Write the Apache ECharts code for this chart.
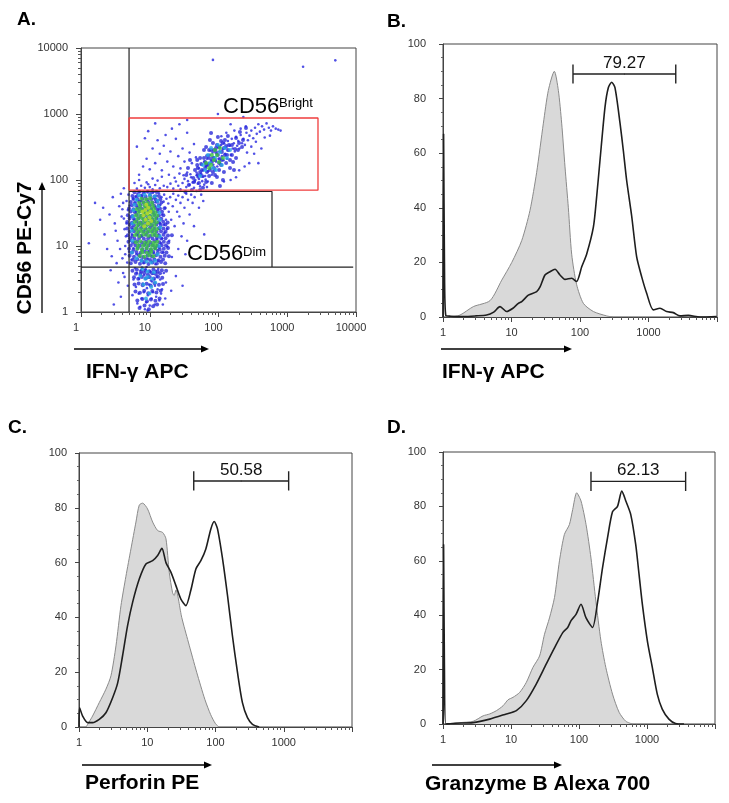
<!DOCTYPE html>
<html><head><meta charset="utf-8">
<script src="https://cdn.jsdelivr.net/npm/echarts@6/dist/echarts.min.js"></script>
<style>html,body{margin:0;padding:0;background:#fff}#c{width:729px;height:803px}</style>
</head><body><div id="c"></div>
<script>
// ---------------- DATA ----------------
const decadeLabelsA = ['1','10','100','1000','10000'];
const decadeLabelsHist = ['1','10','100','1000',''];
const minorMultipliers = [2,3,4,5,6,7,8,9];

// Panel A gates (data units)
const gateVertA = [[5,1],[5,10000]];
const gateHorzA = [[1,4.8],[9100,4.8]];
const brightGate = [[5,70],[2800,70],[2800,870],[5,870],[5,70]];
const dimGate = [[5,67],[600,67],[600,4.8]];

// Panel A events
const scatterBlue = [
[5.2,12],[5.6,18],[5.9,25],[6.3,33],[6.1,44],[5.7,52],[6.6,62],[7.1,66],[7.8,58],[8.4,64],[9.2,67],[10.1,62],[11.3,66],[12.4,58],[13.6,63],[14.8,55],[15.9,47],[16.8,38],[15.2,30],[14.1,22],[13.5,15],[14.6,11],[15.8,8],[13.2,6],[12.1,5.3],[10.7,5.8],[9.4,6.4],[8.1,5.5],[7.2,6.8],[6.4,7.5],[5.8,9.3],[5.4,6.2],[6.9,10.5],[7.6,14],[8.8,11],[11.9,9],[12.8,12.5],[13.9,18],[12.6,27],[13.1,36],[12.2,46],[11.6,53],[6.8,20],[7.3,38],[6.2,56],[7.5,48],[14.3,42],[16.2,60],[17.5,52],[18.6,44],[17.2,25],[16.4,16],[18.9,33],[19.8,55],[4.8,35],[4.6,22],[5.1,41],[4.9,60],[5.3,28],[5.5,15],[6.0,11.5],[6.7,14.5],[9.6,8.4],[10.3,7.2],[11.4,7.8],[12.9,8.6],[13.8,9.5],[15.1,13],[16.1,21],[17.8,18],[20.5,25],[21.6,40],[19.2,12],[18.1,9.8],[4.3,18],[4.1,45],[3.9,28],[4.4,10],[5.0,8.2],[4.7,5.6],
[6.1,4.6],[6.5,3.9],[7.0,3.2],[7.4,4.3],[7.9,2.7],[8.3,3.6],[8.7,4.4],[9.1,2.3],[9.6,3.3],[10.2,4.1],[10.8,2.9],[11.3,3.8],[11.9,2.5],[12.6,3.4],[13.3,4.5],[14.2,3.1],[15.1,2.2],[16.0,3.9],[6.3,2.4],[6.9,1.9],[7.6,1.6],[8.2,2.0],[8.9,1.4],[9.4,1.8],[10.0,1.25],[10.6,1.6],[11.1,2.0],[11.8,1.3],[12.4,1.7],[13.0,2.2],[13.8,1.5],[14.6,1.9],[15.5,1.3],[7.3,1.2],[8.5,1.1],[9.8,2.6],[10.4,3.0],[11.6,3.1],[12.2,4.2],[7.7,4.7],[9.0,4.8],[6.6,1.35],[9.3,1.05],[16.8,1.6],[17.2,2.8],[5.8,3.1],[5.6,1.8],[4.8,2.5],[4.3,3.4],[3.8,1.7],
[3.4,12],[3.1,22],[2.8,7],[3.6,40],[2.6,30],[2.2,15],[3.3,5.5],[2.9,55],[3.8,62],[2.4,9],[1.9,25],[1.6,45],[1.3,11],[4.2,75],[3.5,2.8],[2.7,4.3],[3.0,1.3],[4.0,6.5],[3.2,17],[2.1,38],[4.5,14],[4.2,26],[4.6,48],[4.0,36],[4.4,7.5],[3.7,9],[4.1,3.9],
[22,62],[24,50],[26,58],[28,45],[25,33],[23,20],[27,28],[30,55],[32,38],[34,62],[36,50],[29,14],[31,22],[38,30],[40,60],[42,45],[45,55],[48,68],[35,12],[26,9],[21,6.8],[33,7.5],[44,20],[52,38],[56,60],[60,48],[24,3.5],[30,2.5],[62,15],[20.5,2.1],
[14,75],[16,82],[18,78],[20,88],[22,74],[24,95],[26,82],[28,72],[30,90],[32,104],[34,78],[36,96],[38,85],[40,110],[42,92],[44,76],[46,100],[48,118],[50,88],[52,104],[54,80],[56,125],[58,96],[60,112],[62,85],[65,102],[68,78],[70,95],[12,84],[10,78],[9,92],[11,105],[13,98],[15,112],[19,120],[23,108],[27,125],[31,118],[35,130],[39,122],[6.5,74],[7.5,82],[8.5,76],[9.5,86],[11,72],[6,90],[7,100],
[45,95],[48,130],[50,110],[52,150],[55,120],[57,170],[60,140],[62,190],[64,115],[66,160],[68,210],[70,135],[72,180],[74,240],[76,150],[78,200],[80,120],[82,260],[84,170],[86,220],[88,140],[90,290],[92,190],[94,250],[96,160],[98,320],[100,210],[103,270],[106,180],[109,340],[112,230],[115,290],[118,200],[121,360],[125,250],[129,310],[133,210],[137,390],[141,280],[146,330],[151,240],[156,420],[161,300],[167,360],[173,270],[180,450],[187,330],[194,390],[202,300],[210,480],[220,360],[230,420],[242,340],[255,520],[268,400],[282,470],
[300,560],[320,430],[340,620],[360,500],[380,700],[400,540],[430,650],[460,580],[500,720],[540,620],[580,560],[620,650],[680,600],[740,580],[800,560],[260,260],[300,320],[350,380],[280,180],[240,160],[330,250],[420,300],[200,140],[180,110],[150,100],[120,95],[380,180],[470,440],[560,470],[250,650],[210,600],[170,560],[150,700],[130,520],[110,460],
[7,120],[8,160],[9,210],[10,145],[11,300],[12,180],[13,400],[14,250],[15,140],[16,330],[18,190],[20,270],[22,160],[24,420],[26,230],[28,150],[30,300],[32,190],[35,520],[38,260],[41,180],[44,350],[47,220],[9.5,550],[12,720],[17,480],[21,600],[27,700],[6.5,320],[8.5,430],
[35,810],[98,1000],[230,900],[83,6600],[1700,5200],[5000,6500]
];
const denseBlue = [
[7.1,1.15],[8.4,1.25],[9.7,1.1],[11.2,1.22],[12.8,1.3],
[6.6,1.5],[7.8,1.58],[9.1,1.45],[10.4,1.55],[12.1,1.48],[13.9,1.6],
[6.2,2.05],[7.2,1.95],[8.3,2.1],[9.5,1.92],[10.9,2.08],[12.5,1.98],[14.4,2.1],
[6.0,2.6],[6.9,2.7],[7.9,2.55],[9.0,2.68],[10.3,2.52],[11.8,2.72],[13.6,2.58],[15.6,2.66],
[5.9,3.35],[6.8,3.2],[7.7,3.4],[8.8,3.25],[10.0,3.38],[11.5,3.22],[13.2,3.42],[15.2,3.3],
[6.3,3.8],[7.3,3.75],[8.3,3.9],[9.4,3.7],[10.8,3.85],[12.3,3.78],[14.1,3.88],
[5.6,4.2],[6.5,4.35],[7.5,4.1],[8.6,4.3],[9.9,4.15],[11.3,4.4],[13.0,4.1],[15.0,4.3],[17.3,4.2],
[5.3,5.5],[6.2,5.7],[7.2,5.4],[8.3,5.65],[9.6,5.35],[11.0,5.6],[12.7,5.45],[14.6,5.7],[16.8,5.5],
[5.7,6.2],[6.6,6.3],[7.6,6.1],[8.8,6.35],[10.1,6.15],[11.7,6.3],[13.5,6.1],[15.6,6.25],
[5.1,7.1],[5.9,6.9],[6.9,7.3],[8.0,6.8],[9.3,7.2],[10.8,6.95],[12.4,7.25],[14.3,6.9],[16.5,7.1],[19,7.0],
[5.5,8.0],[6.4,8.1],[7.4,7.9],[8.5,8.15],[9.8,7.95],[11.3,8.1],[13.1,7.9],[15.1,8.05],[17.5,8.0],
[5.0,9.1],[5.8,8.8],[6.7,9.3],[7.8,8.9],[9.0,9.2],[10.4,8.85],[12.0,9.3],[13.9,8.9],[16.0,9.1],[18.5,9.3],
[5.3,10.2],[6.2,10.3],[7.2,10.1],[8.3,10.35],[9.6,10.15],[11.1,10.3],[12.9,10.1],[14.9,10.25],[17.2,10.2],
[4.9,11.6],[5.7,11.2],[6.6,11.8],[7.7,11.3],[8.9,11.7],[10.3,11.2],[11.9,11.8],[13.8,11.4],[16.0,11.6],[18.6,11.3],
[5.2,13.1],[6.0,12.9],[7.0,13.2],[8.2,12.85],[9.5,13.15],[11.0,12.9],[12.7,13.2],[14.7,12.95],[17.0,13.1],
[4.8,14.6],[5.6,14.2],[6.5,14.9],[7.6,14.3],[8.8,14.8],[10.2,14.2],[11.8,14.7],[13.7,14.3],[15.9,14.8],[18.4,14.4],[21,14.6],
[5.1,16.4],[5.9,16.7],[6.9,16.3],[8.1,16.6],[9.4,16.35],[10.9,16.7],[12.6,16.4],[14.6,16.65],[17.0,16.5],
[4.7,18.4],[5.5,18.9],[6.4,18.2],[7.5,18.8],[8.7,18.3],[10.1,18.9],[11.7,18.2],[13.6,18.7],[15.8,18.4],[18.3,18.8],
[5.1,21],[5.9,20.6],[6.9,21.3],[8.0,20.8],[9.3,21.2],[10.8,20.7],[12.5,21.1],[14.5,20.8],[16.9,21.2],
[4.7,23.2],[5.5,22.6],[6.4,23.5],[7.4,22.8],[8.6,23.4],[10.0,22.7],[11.6,23.3],[13.5,22.9],[15.7,23.4],[18.2,22.8],
[5.1,26.2],[5.9,25.6],[6.9,26.4],[8.1,25.8],[9.4,26.3],[10.9,25.7],[12.6,26.2],[14.7,25.9],
[4.8,29.3],[5.6,28.5],[6.5,29.6],[7.5,28.8],[8.7,29.4],[10.1,28.6],[11.7,29.5],[13.6,28.9],[15.8,29.2],
[5.3,33.2],[6.1,32.5],[7.1,33.5],[8.3,32.8],[9.6,33.3],[11.2,32.6],[13.0,33.4],[15.1,32.9],
[5.0,37],[5.8,36.2],[6.7,37.6],[7.8,36.5],[9.0,37.4],[10.5,36.3],[12.2,37.5],[14.1,36.8],[16.4,37.2],
[5.5,41.5],[6.4,40.6],[7.4,41.8],[8.6,40.8],[10.0,41.4],[11.6,40.7],[13.5,41.6],
[5.3,46.5],[6.1,45.3],[7.1,46.8],[8.2,45.6],[9.5,46.4],[11.0,45.5],[12.8,46.7],[14.8,45.8],
[5.8,51.5],[6.7,50.4],[7.8,51.8],[9.1,50.6],[10.5,51.4],[12.2,50.8],[14.2,51.2],
[5.6,57],[6.5,56],[7.5,57.8],[8.7,56.4],[10.1,57.5],[11.7,56.2],[13.6,57.3],
[6.0,65],[7.0,66.5],[8.1,64.8],[9.4,66.2],[10.9,65.3],[12.6,66],
[89,201],[70,169],[112,265],[54,132],[142,339],[43,107],[180,433],[78,285],[102,142],[61.5,215],[129,181],[49,169],[157,239],[37,84],[205,534],[83,364],[95,111],[66,316],[120,132],[52,90],[174,295],[73,115],[109,390],[45.5,142],[147,152],[59.5,76],[227,404],[86,152],[68,231],[105,208],[34,119],[192,285],[57.5,115],[129,327],[80,90],[98,448],[41,70.5],[163,187],[64,152],[116,100],[75,404],[49,201],[137,464],[92,265],[54,70.5],[251,614],[36,152],[168,142],[102,181],[66,93],[133,239],[83,215],[73,285],[56,175],[120,305],[44,93],[199,364],[89,119],[61.5,285],[147,201],[105,81],[50,119],[78,515],[180,215],[33,66],[220,316],[38.5,201],[124,404],[95,339],[68,132],
[80,187],[98,239],[64,187],[109,169],[73,215],[92,305],[57.5,142],[124,239],[83,132],[102,316],[50,152],[137,285],[112,201],[86,285],[66,169],[54,215],[157,339],[116,364],[75,142]
];
const scatterCyan = [
[5.5,8],[5.6,12],[5.5,17],[5.6,22],[5.7,28],[5.8,35],[6,42],[6.4,50],[7,58],[8.4,60],[10,59],[11.8,56],[13,48],[13.4,40],[13.8,32],[14,25],[14.2,19],[14,14],[13.6,10],[13,7.5],[12,6],[10.5,5.6],[9,5.8],[7.6,6],[6.4,6.5],[7.8,4.5],[9.3,4.1],[11.5,4],[8.6,3.2],[10.5,2.4],[9.9,1.9],[8.1,2.6],[9.4,3.4],[10.9,3.2],[8.8,1.6],[7.3,3.5],[12,2.8],
[89,215],[75,181],[105,265],[64,142],[124,305],[83,152],[98,339],[70,239],[112,169],[59.5,169],[133,215],[92,142],[78,305],[54,115],[147,285]
];
const scatterGreen = [
[7.2,7.1],[8.4,6.9],[9.8,7.2],[11.3,7],
[6.6,9.1],[7.7,8.8],[9,9.3],[10.4,8.9],[12,9.2],
[6.3,11.4],[7.3,11.8],[8.5,11.3],[9.8,11.7],[11.3,11.2],[12.8,11.6],
[6.1,14.6],[7.1,14.2],[8.2,14.8],[9.5,14.3],[11,14.7],[12.6,14.4],
[6.2,18.3],[7.2,17.8],[8.3,18.4],[9.6,17.9],[11.1,18.2],[12.7,18],
[6.1,23.2],[7.1,22.6],[8.2,23.4],[9.5,22.8],[11,23.3],[12.6,22.9],
[6.3,29.2],[7.3,28.6],[8.4,29.5],[9.7,28.8],[11.2,29.3],[12.8,28.7],
[6.5,36.2],[7.5,35.5],[8.7,36.6],[10,35.8],[11.5,36.4],
[7,44.8],[8.1,45.6],[9.3,44.5],[10.7,45.4],
[7.6,52],[8.8,51],[10.1,52.5],
[6.8,10.2],[8,10.1],[9.3,10.4],[10.8,10.1],[12.3,10.3],[6.6,16.2],[7.7,16.4],[8.9,16.1],[10.3,16.5],[11.9,16.2],[6.6,20.5],[7.7,20.8],[8.9,20.4],[10.3,20.9],[11.8,20.5],[6.7,25.8],[7.8,26.1],[9,25.6],[10.4,26.2],[12,25.8],[6.9,32.4],[8,32.8],[9.2,32.2],[10.6,32.9],[12.1,32.3],[7.2,40.2],[8.4,40.6],[9.7,40],[11.1,40.5],[7.8,8],[9.1,7.9],[10.5,8.1],
[86,201],[95,239],[78,169],[105,305],[73,152],[116,215],[89,285],[66,181],[102,187],[80,239]
];
const scatterYellow = [[8.3,20],[9.4,22],[8.7,25],[9.9,27],[8.1,29],[9.2,31],[10.2,33],[8.6,35],[9.5,38],[8.9,42],[7.8,33],[10.5,24]];

// Panel B: IFN-γ APC histograms  [intensity, % of max]
const bGrey = [[1.27,0],[1.77,0.7],[2.77,3.8],[4.86,6],[7.2,13.5],[10.1,20],[14.1,28],[18.6,39],[23.3,53],[29.2,71],[34.5,83],[42.2,90],[48.3,83],[54,71],[60.4,55],[67.6,40],[75.6,23],[89,12],[112,5],[157,2],[245,0.4],[300,0]];
const bBlack = [[1,0],[1.02,67],[1.05,20],[1.1,0.5],[1.3,0.3],[2,0.2],[3,0.4],[4.34,0.7],[5.5,1.8],[6.8,3.8],[8.5,2],[10.5,3.2],[12.6,5],[14.1,5.6],[17.6,8],[23.3,9.3],[26.1,11],[30.8,15.4],[36.5,16.6],[43.2,17.5],[51,15.4],[60.4,13.8],[75.6,14.2],[89,13],[106,18.4],[125,23],[157,33],[175,44],[196,57.5],[232,77],[259,84],[290,86],[324,84],[384,71],[429,61],[480,50],[568,37],[672,22],[794,14.8],[940,8.7],[1175,2.6],[1472,3.2],[1841,2],[2305,1.6],[2884,0.4],[3813,0.6],[5650,0],[9890,0.2]];
// Panel C: Perforin PE
const cGrey = [[1.27,0],[1.58,4],[1.98,8.9],[2.48,13.8],[2.94,18.7],[3.48,29.6],[4.12,44.3],[4.87,55],[5.77,65],[6.83,74.8],[7.64,81],[8.55,81.7],[10.1,79.6],[12,74.8],[14.2,71.7],[16.8,71],[18.8,68.7],[21,56.5],[23.5,49],[24.8,48],[26.3,50],[32,40],[40,31],[53,20],[70,10],[85,4.5],[100,1.2],[112,0]];
const cBlack = [[1,0],[1.02,7],[1.13,4],[1.34,1.6],[1.58,1.6],[1.98,2.8],[2.48,5.2],[3.11,10.7],[3.68,16],[4.35,26],[5.15,37],[6.1,45.5],[7.64,54],[9.56,59.5],[12,60.7],[14.2,62.6],[16.4,65.2],[18.8,60],[22.2,56.5],[26.3,51.6],[31.1,46.7],[36.8,44.3],[43.6,50],[51.6,57.7],[61,60.7],[72.2,65],[85.5,72.3],[95.6,75],[107,72.3],[127,61.3],[150,48],[177,33.3],[210,19.9],[248,8.9],[294,3.4],[348,1],[436,0]];
// Panel D: Granzyme B Alexa 700
const dGrey = [[1.27,0],[1.77,0.5],[2.78,1],[3.89,3],[4.87,3.7],[6.1,4.9],[7.64,6.7],[9.04,8.9],[10.7,9.8],[13.4,11.6],[16.8,15.3],[21,20.8],[26.3,25],[31.1,33],[36.8,39],[43.6,46.5],[51.6,60],[61,69.7],[72.2,73.3],[80.8,78.9],[92.5,85],[107,82],[127,73.3],[150,61],[177,45.2],[210,30.6],[248,20.8],[311,11],[389,4.3],[488,1],[610,0]];
const dBlack = [[1,0],[1.02,66],[1.05,20],[1.1,0],[1.5,0.3],[2.78,0.5],[4.87,1.8],[8.55,3.7],[12,4.9],[16.8,8.6],[23.5,14.7],[32.9,22],[43.6,28],[57.7,33.6],[68.2,35.5],[76.4,38],[90.4,40.3],[107,44],[127,39],[158,35.5],[188,45],[222,57.5],[263,68.5],[311,78],[368,80],[426,85.6],[488,82],[577,77],[682,66],[764,55],[855,44],[1012,30.6],[1197,20.8],[1416,11],[1675,5.5],[2100,1.8],[2630,0.2],[3500,0]];

// Marker gates [from, to, level] and their labels
const gatesHist = [[79,2500,89],[48,1180,89.8],[150,3700,89.2]];
const gateLabels = ['79.27','50.58','62.13'];

// ---------------- CHART ----------------
const FONT = '"Liberation Sans", Arial, sans-serif';
const minorLog = [];
for (let d = 0; d < 4; d++) minorMultipliers.forEach(m => minorLog.push(d + Math.log10(m)));

const grids = [
  {left:81, top:48, width:275, height:264},
  {left:443, top:44, width:274, height:273},
  {left:79, top:453, width:273, height:274},
  {left:443, top:452, width:272, height:272}
].map(g => Object.assign(g, {show:true, borderColor:'#444', borderWidth:1, backgroundColor:'rgba(0,0,0,0)', containLabel:false, outerBoundsMode:'none'}));

const xAxes = [], yAxes = [];
grids.forEach((g, gi) => {
  const labels = gi === 0 ? decadeLabelsA : decadeLabelsHist;
  xAxes.push({gridIndex:gi, type:'log', logBase:10, min:1, max:10000, show:false, position:'bottom'});
  xAxes.push({gridIndex:gi, type:'value', min:0, max:4, interval:1, position:'bottom',
    axisLine:{show:true, onZero:false, lineStyle:{color:'#444', width:1}},
    axisTick:{show:true, length:5, lineStyle:{color:'#444'}},
    axisLabel:{show:true, margin:10, fontSize:11, color:'#333', fontFamily:FONT,
      padding: gi === 0 ? [0,10,0,0] : 0,
      formatter: v => labels[Math.round(v)]},
    splitLine:{show:false}});
  xAxes.push({gridIndex:gi, type:'value', min:0, max:4, position:'bottom',
    axisLine:{show:false}, axisLabel:{show:false}, splitLine:{show:false},
    axisTick:{show:true, length:3, customValues:minorLog, lineStyle:{color:'#555'}}});
});
yAxes.push({gridIndex:0, type:'log', logBase:10, min:1, max:10000, show:false, position:'left'});
yAxes.push({gridIndex:0, type:'value', min:0, max:4, interval:1, position:'left',
  axisLine:{show:true, onZero:false, lineStyle:{color:'#444'}},
  axisTick:{show:true, length:5, lineStyle:{color:'#444'}},
  axisLabel:{margin:13, fontSize:11, color:'#333', fontFamily:FONT, formatter: v => decadeLabelsA[Math.round(v)]},
  splitLine:{show:false}});
yAxes.push({gridIndex:0, type:'value', min:0, max:4, position:'left',
  axisLine:{show:false}, axisLabel:{show:false}, splitLine:{show:false},
  axisTick:{show:true, length:3, customValues:minorLog, lineStyle:{color:'#555'}}});
[17,12,17].forEach((mg, i) => {
  yAxes.push({gridIndex:i+1, type:'value', min:0, max:100, interval:20, position:'left',
    axisLine:{show:true, onZero:false, lineStyle:{color:'#444'}},
    axisTick:{show:true, length:4, lineStyle:{color:'#444'}},
    minorTick:{show:true, splitNumber:4, length:2, lineStyle:{color:'#666'}},
    axisLabel:{margin:mg, fontSize:11, color:'#333', fontFamily:FONT},
    splitLine:{show:false}, minorSplitLine:{show:false}});
});

const series = [];
function scat(data, color, size, z) {
  series.push({type:'scatter', xAxisIndex:0, yAxisIndex:0, data, symbol:'circle', symbolSize:size,
    itemStyle:{color}, silent:true, z, animation:false});
}
scat(denseBlue, '#2a2ad8', 4, 2);
scat(scatterBlue, '#2626e0', 2.6, 2);
scat(scatterCyan, '#26a6e2', 4, 3);
scat(scatterGreen, '#3cc440', 4.2, 4);
scat(scatterYellow, '#bcdc28', 4, 5);
function gline(data, color, w) {
  series.push({type:'line', xAxisIndex:0, yAxisIndex:0, data, symbol:'none', silent:true,
    lineStyle:{color, width:w}, z:6, animation:false});
}
gline(gateVertA, '#222', 1.2);
gline(gateHorzA, '#222', 1.2);
gline(dimGate, '#222', 1.2);
gline(brightGate, '#f03c3c', 1.3);

const hist = [[bGrey,bBlack],[cGrey,cBlack],[dGrey,dBlack]];
hist.forEach((h, i) => {
  const xi = 3*(i+1), yi = 3 + i;
  series.push({type:'line', xAxisIndex:xi, yAxisIndex:yi, data:h[0], symbol:'none', smooth:0.25, silent:true,
    lineStyle:{color:'#8a8a8a', width:1}, areaStyle:{color:'#d9d9d9', opacity:1}, z:2, animation:false});
  series.push({type:'line', xAxisIndex:xi, yAxisIndex:yi, data:h[1], symbol:'none', smooth:0.25, silent:true,
    lineStyle:{color:'#1e1e1e', width:1.6}, z:3, animation:false});
  const [x1, x2, lv] = gatesHist[i];
  series.push({type:'line', xAxisIndex:xi, yAxisIndex:yi, silent:true, symbol:'none',
    data:[[x1,lv+3.5],[x1,lv-3.5],[x1,lv],[x2,lv],[x2,lv+3.5],[x2,lv-3.5]],
    lineStyle:{color:'#222', width:1.4}, z:4, animation:false});
  series.push({type:'scatter', xAxisIndex:xi, yAxisIndex:yi, silent:true, symbolSize:1,
    itemStyle:{color:'#222', opacity:1}, data:[[Math.sqrt(x1*x2), lv]],
    label:{show:true, position:'top', distance:2, formatter:gateLabels[i], fontSize:17,
      color:'#111', opacity:1, textBorderWidth:0, fontFamily:FONT},
    z:5, animation:false});
});

function txt(x, y, text, size, weight, extra) {
  return Object.assign({type:'text', x, y, silent:true,
    style:{text, fill:'#000', font: (weight||'normal') + ' ' + size + 'px ' + FONT, align:'left', verticalAlign:'middle'}}, extra||{});
}
function arrowH(x1, x2, y) {
  return [
    {type:'line', silent:true, shape:{x1, y1:y, x2:x2-7, y2:y}, style:{stroke:'#000', lineWidth:1.3}},
    {type:'polygon', silent:true, shape:{points:[[x2,y],[x2-8,y-3.5],[x2-8,y+3.5]]}, style:{fill:'#000'}}
  ];
}
const graphics = [
  txt(17, 20, 'A.', 19, 'bold'),
  txt(387, 22, 'B.', 19, 'bold'),
  txt(8, 428, 'C.', 19, 'bold'),
  txt(387, 428, 'D.', 19, 'bold'),
  txt(86, 372, 'IFN-γ APC', 21, 'bold'),
  txt(442, 372, 'IFN-γ APC', 21, 'bold'),
  txt(85, 783, 'Perforin PE', 21, 'bold'),
  txt(425, 784, 'Granzyme B Alexa 700', 21, 'bold'),
  {type:'text', x:25, y:248, rotation:Math.PI/2, silent:true,
    style:{text:'CD56 PE-Cy7', fill:'#000', font:'bold 21px ' + FONT, align:'center', verticalAlign:'middle'}},
  txt(223, 107, 'CD56', 22, 'normal'),
  txt(279, 103, 'Bright', 13, 'normal'),
  txt(187, 254, 'CD56', 22, 'normal'),
  txt(243, 252, 'Dim', 13, 'normal'),
  ...arrowH(74, 209, 349),
  ...arrowH(441, 572, 349),
  ...arrowH(82, 212, 765),
  ...arrowH(432, 562, 765),
  {type:'line', silent:true, shape:{x1:42, y1:313, x2:42, y2:190}, style:{stroke:'#000', lineWidth:1.3}},
  {type:'polygon', silent:true, shape:{points:[[42,182],[38.5,190],[45.5,190]]}, style:{fill:'#000'}}
];

const chart = echarts.init(document.getElementById('c'), null, {renderer:'canvas'});
chart.setOption({
  animation:false,
  backgroundColor:'#fff',
  grid: grids,
  xAxis: xAxes,
  yAxis: yAxes,
  series,
  graphic: graphics
});
</script>
</body></html>
